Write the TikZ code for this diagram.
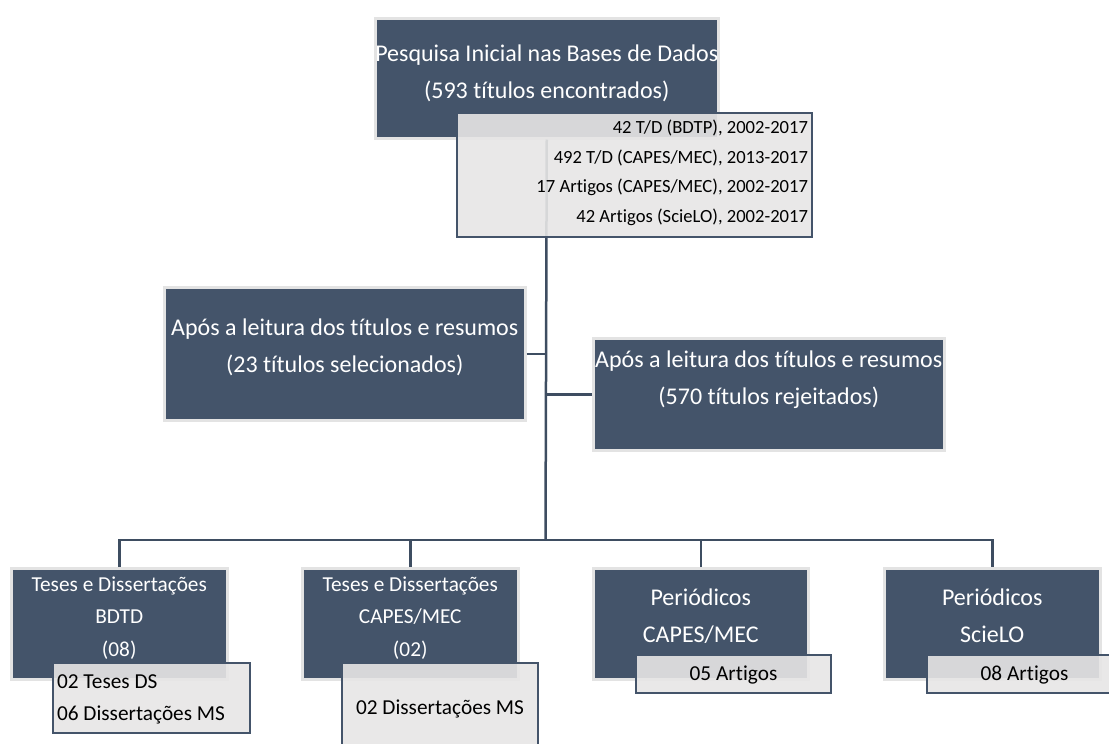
\documentclass[tikz,border=0pt]{standalone}
\usepackage{fontspec}
\setmainfont{Carlito}[Ligatures=NoCommon]
\usetikzlibrary{positioning}

\definecolor{slate}{HTML}{44546A}
\definecolor{slateline}{HTML}{3E4D61}
\definecolor{rim}{HTML}{E3E3E3}
\definecolor{paper}{HTML}{E7E6E6}

% text set at the top of a box: height, width, alignment, top space, text
\newcommand{\boxtext}[5]{\parbox[c][#1pt][t]{#2pt}{#3\vspace*{#4pt}\strut #5}}

\begin{document}
\begin{tikzpicture}[
    x=1pt, y=-1pt,
    darkbox/.style={
        rectangle,
        anchor=north west,
        inner sep=0pt,
        draw=rim,
        line width=2.5pt,
        fill=slate,
        text=white
    },
    subbox/.style={
        rectangle,
        anchor=north west,
        inner xsep=4pt,
        inner ysep=0pt,
        draw=slate,
        line width=2pt,
        fill=paper,
        fill opacity=0.9,
        text opacity=1,
        text=black
    },
    bigfont/.style={font=\fontsize{24}{37}\selectfont},
    midfont/.style={font=\fontsize{21.3}{32.5}\selectfont},
    smallfont/.style={font=\fontsize{18.6}{29.5}\selectfont},
    link/.style={draw=slateline, line width=2.5pt}
]
\useasboundingbox (0,0) rectangle (1109,744);

% Top layer
\node[darkbox, bigfont] (topbox) at (374,17)
    {\boxtext{120}{343}{\centering}{17}{Pesquisa Inicial nas Bases de Dados\\(593 títulos encontrados)}};

% Middle layer
\node[darkbox, bigfont] (leftmid) at (163,286)
    {\boxtext{133}{361}{\centering}{22}{Após a leitura dos títulos e resumos\\(23 títulos selecionados)}};
\node[darkbox, bigfont] (rightmid) at (592,337)
    {\boxtext{112}{351}{\centering}{3}{Após a leitura dos títulos e resumos\\(570 títulos rejeitados)}};

% Bus
\coordinate (bus) at (545.5,540);

% Bottom layer
\node[darkbox, midfont] (bdtd) at (10,567)
    {\boxtext{111}{216}{\centering}{0}{Teses e Dissertações\\BDTD\\(08)}};
\node[darkbox, midfont] (capestd) at (301,567)
    {\boxtext{111}{216}{\centering}{0}{Teses e Dissertações\\CAPES/MEC\\(02)}};
\node[darkbox, bigfont] (capesper) at (592,567)
    {\boxtext{111}{215}{\centering}{11}{Periódicos\\CAPES/MEC}};
\node[darkbox, bigfont] (scielo) at (883,567)
    {\boxtext{111}{216}{\centering}{11}{Periódicos\\ScieLO}};

% Connectors
\draw[link] (topbox.south) -- (bus);
\draw[link] (leftmid.east) -- (leftmid.east -| topbox.south);
\draw[link] (rightmid.west) -- (rightmid.west -| topbox.south);
\draw[link] (bdtd.north) -- (bdtd.north |- bus) -- (scielo.north |- bus) -- (scielo.north);
\draw[link] (capestd.north) -- (capestd.north |- bus);
\draw[link] (capesper.north) -- (capesper.north |- bus);

% Detail boxes
\node[subbox, smallfont] (topsub) at (456,112)
    {\boxtext{124}{347}{\raggedleft}{0}{42 T/D (BDTP), 2002-2017\\492 T/D (CAPES/MEC), 2013-2017\\17 Artigos (CAPES/MEC), 2002-2017\\42 Artigos (ScieLO), 2002-2017}};
\node[subbox, midfont] (bdtdsub) at (52,662)
    {\boxtext{70}{189}{\raggedright}{2.6}{02 Teses DS\\06 Dissertações MS}};
\node[subbox, midfont] (capestdsub) at (341,662)
    {\boxtext{100}{188}{\centering}{28.6}{02 Dissertações MS}};
\node[subbox, midfont] (capesart) at (635,654)
    {\boxtext{38}{187}{\centering}{2.6}{05 Artigos}};
\node[subbox, midfont] (scieloart) at (926,654)
    {\boxtext{38}{187}{\centering}{2.6}{08 Artigos}};

\end{tikzpicture}
\end{document}
